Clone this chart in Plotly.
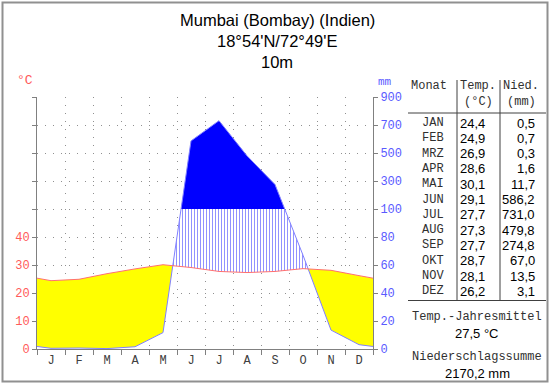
import plotly.graph_objects as go

# ---------------- data ----------------
months_short = ["J", "F", "M", "A", "M", "J", "J", "A", "S", "O", "N", "D"]
months_table = ["JAN", "FEB", "MRZ", "APR", "MAI", "JUN", "JUL", "AUG", "SEP", "OKT", "NOV", "DEZ"]
temp = [24.4, 24.9, 26.9, 28.6, 30.1, 29.1, 27.7, 27.3, 27.7, 28.7, 28.1, 26.2]
precip = [0.5, 0.7, 0.3, 1.6, 11.7, 586.2, 731.0, 479.8, 274.8, 67.0, 13.5, 3.1]
left_ticks = ["0", "10", "20", "30", "40", "", "", "", "", ""]
right_ticks = ["0", "20", "40", "60", "80", "100", "300", "500", "700", "900"]
title_lines = ["Mumbai (Bombay) (Indien)", "18°54'N/72°49'E", "10m"]

W, H = 550, 384


def px(x):
    return x / W


def py(y):
    return 1 - y / H


def pscale(p):
    # precipitation in temperature units: 20 mm = 10 °C up to 100 mm, then 200 mm = 10 °C
    return p / 2 if p <= 100 else 50 + (p - 100) / 20


# extended series (edges = mean of Dec/Jan)
xs = [0.0] + [i + 0.5 for i in range(12)] + [12.0]
t_edge = (temp[0] + temp[-1]) / 2
p_edge = (precip[0] + precip[-1]) / 2
T = [t_edge] + temp + [t_edge]
P = [pscale(p_edge)] + [pscale(p) for p in precip] + [pscale(p_edge)]

# refine with crossing points (P=T and P=50)
rx, rt, rp = [xs[0]], [T[0]], [P[0]]
for i in range(len(xs) - 1):
    x0, x1 = xs[i], xs[i + 1]
    t0, t1 = T[i], T[i + 1]
    p0, p1 = P[i], P[i + 1]
    fr = []
    d0, d1 = p0 - t0, p1 - t1
    if d0 * d1 < 0:
        fr.append(d0 / (d0 - d1))
    e0, e1 = p0 - 50, p1 - 50
    if e0 * e1 < 0:
        fr.append(e0 / (e0 - e1))
    for f in sorted(fr):
        rx.append(x0 + f * (x1 - x0))
        rt.append(t0 + f * (t1 - t0))
        rp.append(p0 + f * (p1 - p0))
    rx.append(x1)
    rt.append(t1)
    rp.append(p1)

low_yellow = [min(p, t) for p, t in zip(rp, rt)]
hatch_top = [max(t, min(p, 50)) for p, t in zip(rp, rt)]
fifty = [50.0] * len(rx)
solid_top = [max(p, 50) for p in rp]

fig = go.Figure()
# yellow arid area
fig.add_trace(go.Scatter(x=rx, y=low_yellow, mode="lines", line=dict(width=0), hoverinfo="skip"))
fig.add_trace(go.Scatter(x=rx, y=rt, mode="lines", line=dict(width=0), fill="tonexty",
                         fillcolor="#FFFF00", hoverinfo="skip"))
# hatched humid area
fig.add_trace(go.Scatter(x=rx, y=rt, mode="lines", line=dict(width=0), hoverinfo="skip"))
fig.add_trace(go.Scatter(x=rx, y=hatch_top, mode="lines", line=dict(width=0), fill="tonexty",
                         fillpattern=dict(shape="|", size=3, solidity=0.33,
                                          fgcolor="#9090FF", bgcolor="white"),
                         hoverinfo="skip"))
# solid perhumid area
fig.add_trace(go.Scatter(x=rx, y=fifty, mode="lines", line=dict(width=0), hoverinfo="skip"))
fig.add_trace(go.Scatter(x=rx, y=solid_top, mode="lines", line=dict(width=0), fill="tonexty",
                         fillcolor="#0000FF", hoverinfo="skip"))
# lines
fig.add_trace(go.Scatter(x=xs, y=P, mode="lines", line=dict(color="#8080FF", width=1), hoverinfo="skip"))
fig.add_trace(go.Scatter(x=xs, y=T, mode="lines", line=dict(color="#FF7070", width=1), hoverinfo="skip"))
# dummy for right axis
fig.add_trace(go.Scatter(x=[0], y=[0], yaxis="y2", mode="markers", marker=dict(opacity=0),
                         hoverinfo="skip"))

tickvals = [i * 10 for i in range(10)]
axis_col = "#808080"
mono = "Liberation Mono"
sans = "Liberation Sans"

fig.update_layout(
    template="none",
    width=W, height=H, margin=dict(l=0, r=0, t=0, b=0, pad=0, autoexpand=False),
    paper_bgcolor="white", plot_bgcolor="white", showlegend=False,
    xaxis=dict(domain=[px(37), px(373)], range=[0, 12], tickmode="array",
               tickvals=[i + 0.5 for i in range(12)], ticktext=months_short,
               ticks="", showgrid=False, zeroline=False, showline=True, linecolor=axis_col,
               automargin=False,
               tickfont=dict(family=mono, size=12, color="#404040"),
               minor=dict(tick0=0, dtick=1, ticks="outside", ticklen=5, tickcolor=axis_col,
                          showgrid=True, gridcolor="#909090", griddash="1px,7px", gridwidth=1),
               fixedrange=True),
    yaxis=dict(domain=[1 - 349 / H, 1 - 97 / H], range=[0, 90], tickmode="array",
               tickvals=tickvals, ticktext=left_ticks, ticks="outside", ticklen=4,
               tickcolor=axis_col, showline=True, linecolor=axis_col, zeroline=False,
               showgrid=True, gridcolor="#909090", griddash="1px,7px", automargin=False,
               tickfont=dict(family=mono, size=12, color="#FF5A5A"), fixedrange=True),
    yaxis2=dict(overlaying="y", side="right", range=[0, 90], tickmode="array",
                tickvals=tickvals, ticktext=right_ticks, ticks="outside", ticklen=4,
                tickcolor=axis_col, showline=True, linecolor=axis_col, zeroline=False,
                showgrid=False, automargin=False,
                tickfont=dict(family=mono, size=12, color="#5A5AFF"),
                fixedrange=True),
)

shapes = []
ann = []


def text(x, y, s, size=12, family=mono, color="#303030", xanchor="center"):
    ann.append(dict(x=px(x), y=py(y), xref="paper", yref="paper", text=s, showarrow=False,
                    xanchor=xanchor, yanchor="middle", font=dict(family=family, size=size, color=color)))


def line(x0, y0, x1, y1, color="#404040", width=1):
    shapes.append(dict(type="line", xref="paper", yref="paper", x0=px(x0), y0=py(y0),
                       x1=px(x1), y1=py(y1), line=dict(color=color, width=width)))


# outer frame
shapes.append(dict(type="rect", xref="paper", yref="paper", x0=px(2.5), y0=py(381.5),
                   x1=px(547.5), y1=py(2.5), line=dict(color="#909090", width=2)))

# title
for i, s in enumerate(title_lines):
    text(277, 20 + 21 * i, s, size=16.5, family=sans, color="black")

text(25, 80, "°C", size=13, color="#FF5A5A")
text(385, 82, "mm", size=11, color="#5A5AFF")

# table
line(408, 113, 546, 113)
line(408, 300.5, 546, 300.5)
line(457, 80, 457, 300.5)
line(500, 80, 500, 300.5)
text(429, 86, "Monat", size=12)
text(478, 86, "Temp.", size=12)
text(478, 102, "(°C)", size=12)
text(521, 102, "(mm)", size=12)
text(521, 86, "Nied.", size=12)
for i in range(12):
    y = 123 + 15.3 * i
    text(446, y, months_table[i], size=12, xanchor="right")
    text(487, y, f"{temp[i]:.1f}".replace(".", ","), size=13, family=sans, color="black", xanchor="right")
    text(537, y, f"{precip[i]:.1f}".replace(".", ","), size=13, family=sans, color="black", xanchor="right")

mean_t = sum(temp) / len(temp)
sum_p = sum(precip)
text(477, 317, "Temp.-Jahresmittel", size=12)
text(477, 333, f"{mean_t:.1f} °C".replace(".", ","), size=13, family=sans, color="black")
text(477, 357, "Niederschlagssumme", size=12)
text(477, 373, f"{sum_p:.1f} mm".replace(".", ","), size=13, family=sans, color="black")

fig.update_layout(shapes=shapes, annotations=ann)
fig.write_html("out.html", config={"displayModeBar": False},
               post_script="document.body.style.margin='0';document.body.style.overflow='hidden';")
